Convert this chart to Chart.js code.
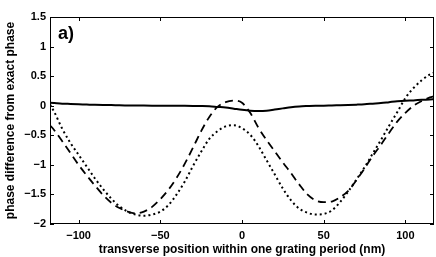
<!DOCTYPE html>
<html>
<head>
<meta charset="utf-8">
<script src="https://cdn.jsdelivr.net/npm/chart.js@4"></script>
<style>
  html, body { margin: 0; padding: 0; background: #fff; }
  #wrap { width: 436px; height: 257px; }
</style>
</head>
<body>
<div id="wrap"><canvas id="plot"></canvas></div>
<script>
// transverse position (nm)
const positions = [-117.5, -115, -110, -105, -100, -95, -90, -85, -80, -75, -70, -65, -60, -55, -50, -45, -40, -35, -30, -25, -20, -15, -10, -5, 0, 5, 10, 15, 20, 25, 30, 35, 40, 45, 50, 55, 60, 65, 70, 75, 80, 85, 90, 95, 100, 105, 110, 115, 117.5];

// solid curve
const solidPhase = [0.05, 0.045, 0.035, 0.03, 0.025, 0.02, 0.015, 0.012, 0.01, 0.007, 0.005, 0.003, 0.002, 0.001, 0.0, 0.0, 0.0, -0.002, -0.004, -0.006, -0.01, -0.02, -0.03, -0.05, -0.07, -0.085, -0.09, -0.085, -0.065, -0.045, -0.025, -0.012, -0.005, 0.0, 0.0, 0.005, 0.008, 0.012, 0.018, 0.025, 0.035, 0.045, 0.06, 0.075, 0.085, 0.09, 0.1, 0.105, 0.11];

// dashed curve
const dashedPhase = [-0.33, -0.41, -0.6, -0.8, -1.0, -1.18, -1.35, -1.51, -1.64, -1.73, -1.79, -1.82, -1.79, -1.71, -1.58, -1.42, -1.22, -0.98, -0.71, -0.43, -0.19, -0.02, 0.06, 0.085, 0.05, -0.12, -0.37, -0.58, -0.77, -0.96, -1.14, -1.33, -1.5, -1.6, -1.63, -1.62, -1.55, -1.44, -1.26, -1.06, -0.85, -0.66, -0.46, -0.27, -0.12, 0.0, 0.08, 0.14, 0.16];

// dotted curve
const dottedPhase = [0.02, -0.1, -0.39, -0.63, -0.83, -1.03, -1.23, -1.41, -1.57, -1.7, -1.79, -1.84, -1.86, -1.84, -1.79, -1.68, -1.5, -1.28, -1.02, -0.78, -0.56, -0.43, -0.35, -0.33, -0.38, -0.49, -0.68, -0.92, -1.16, -1.4, -1.6, -1.74, -1.81, -1.84, -1.83, -1.77, -1.63, -1.45, -1.25, -1.04, -0.81, -0.58, -0.34, -0.11, 0.13, 0.3, 0.43, 0.53, 0.56];

const xTicks = [-100, -50, 0, 50, 100];
const yTicks = [-2, -1.5, -1, -0.5, 0, 0.5, 1, 1.5];

const xTitle = "transverse position within one grating period (nm)";
const yTitle = "phase difference from exact phase";
const panelLabel = "a)";

function pts(ys) {
  return positions.map((x, i) => ({ x: x, y: ys[i] }));
}

function fmt(v) {
  return v < 0 ? "\u2212" + Math.abs(v) : String(v);
}

// box frame, inward ticks on all sides, panel label
const frame = {
  id: "frame",
  afterDraw(chart) {
    const ctx = chart.ctx;
    const a = chart.chartArea;
    const sx = chart.scales.x, sy = chart.scales.y;
    ctx.save();
    ctx.strokeStyle = "#000";
    ctx.lineWidth = 1;
    ctx.strokeRect(a.left + 0.5, a.top + 0.5, a.right - a.left - 1, a.bottom - a.top - 1);
    const len = 4;
    ctx.beginPath();
    xTicks.forEach(v => {
      const p = Math.round(sx.getPixelForValue(v)) + 0.5;
      ctx.moveTo(p, a.bottom); ctx.lineTo(p, a.bottom - len);
      ctx.moveTo(p, a.top); ctx.lineTo(p, a.top + len);
    });
    yTicks.forEach(v => {
      const p = Math.round(sy.getPixelForValue(v)) + 0.5;
      ctx.moveTo(a.left, p); ctx.lineTo(a.left + len, p);
      ctx.moveTo(a.right, p); ctx.lineTo(a.right - len, p);
    });
    ctx.stroke();
    ctx.fillStyle = "#000";
    ctx.font = "bold 18px 'Liberation Sans', Arial, sans-serif";
    ctx.textBaseline = "alphabetic";
    ctx.fillText(panelLabel, a.left + 8, a.top + 22);
    ctx.restore();
  }
};

const lineBase = {
  borderColor: "#000",
  pointRadius: 0,
  fill: false,
  cubicInterpolationMode: "monotone",
  borderCapStyle: "butt"
};

Chart.defaults.font.family = "'Liberation Sans', Arial, sans-serif";
Chart.defaults.color = "#000";

new Chart(document.getElementById("plot"), {
  type: "line",
  data: {
    datasets: [
      Object.assign({ label: "solid", data: pts(solidPhase), borderWidth: 2 }, lineBase),
      Object.assign({ label: "dashed", data: pts(dashedPhase), borderWidth: 1.8, borderDash: [8, 5] }, lineBase),
      Object.assign({ label: "dotted", data: pts(dottedPhase), borderWidth: 2, borderDash: [2, 3] }, lineBase)
    ]
  },
  options: {
    responsive: true,
    maintainAspectRatio: false,
    animation: false,
    layout: { padding: { top: 17, right: 2, left: 0, bottom: 0 } },
    plugins: { legend: { display: false }, tooltip: { enabled: false } },
    scales: {
      x: {
        type: "linear",
        min: -117.5,
        max: 117.5,
        afterBuildTicks: s => { s.ticks = xTicks.map(v => ({ value: v })); },
        afterFit: s => { s.height = 33; },
        grid: { display: false, drawTicks: false },
        border: { display: false },
        ticks: { padding: 5, font: { size: 11, weight: "bold" }, callback: fmt, maxRotation: 0 },
        title: { display: true, text: xTitle, font: { size: 12, weight: "bold" }, padding: { top: 2, bottom: 0 } }
      },
      y: {
        type: "linear",
        min: -2,
        max: 1.5,
        afterBuildTicks: s => { s.ticks = yTicks.map(v => ({ value: v })); },
        afterFit: s => { s.width = 50; },
        grid: { display: false, drawTicks: false },
        border: { display: false },
        ticks: { padding: 4, font: { size: 11, weight: "bold" }, callback: fmt },
        title: { display: true, text: yTitle, font: { size: 12, weight: "bold" }, padding: { top: 3, bottom: 0 } }
      }
    }
  },
  plugins: [frame]
});
</script>
</body>
</html>
